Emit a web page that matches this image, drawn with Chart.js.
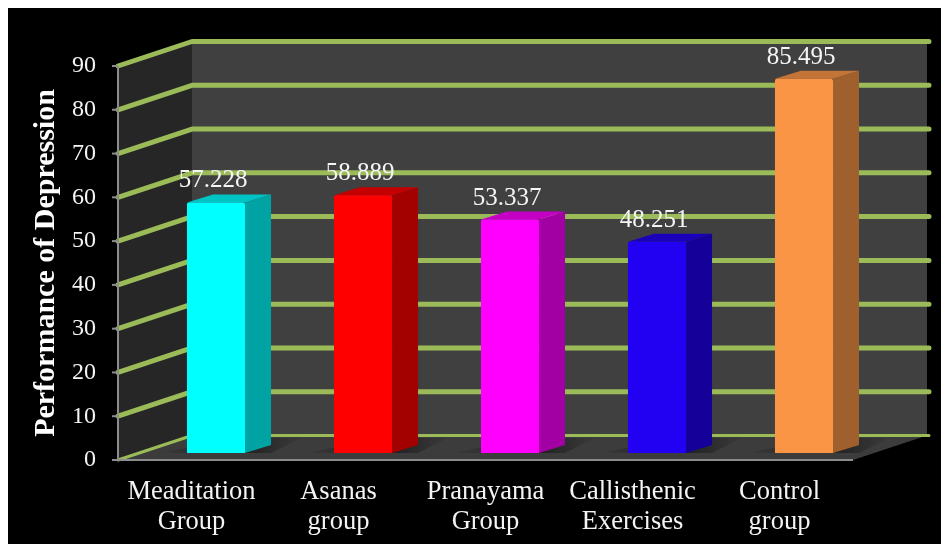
<!DOCTYPE html>
<html><head><meta charset="utf-8">
<style>
html,body{margin:0;padding:0;background:#fff;}
#box{position:absolute;left:8px;top:8px;width:933px;height:536px;background:#000;}
</style>
<script src="https://cdn.jsdelivr.net/npm/chart.js@4/dist/chart.umd.js"></script>
</head><body>
<div style="position:absolute;left:0;top:0;width:941px;height:544px;overflow:hidden"><div id="box"></div>
<canvas id="c" width="941" height="544" style="position:absolute;left:0;top:0"></canvas></div>
<script>
const categories=[["Meaditation","Group"],["Asanas","group"],["Pranayama","Group"],["Callisthenic","Exercises"],["Control","group"]];
const values=[57.228,58.889,53.337,48.251,85.495];
const frontColors=["#00ffff","#ff0000","#ff00ff","#2200f2","#fb9546"];
const sideColors=["#00a3a3","#a30000","#a300a3","#150099","#a0602d"];
const topColors=["#00c4c4","#c40000","#c400c4","#1a00b8","#c47436"];
const yTicks=[0,10,20,30,40,50,60,70,80,90];
const yTitle="Performance of Depression";

const DX=74,DY=-24.5,BX=24.5,BY=-7,SX=26,SY=-8;
function poly(ctx,pts,fill){ctx.beginPath();pts.forEach((p,i)=>i?ctx.lineTo(p[0],p[1]):ctx.moveTo(p[0],p[1]));ctx.closePath();ctx.fillStyle=fill;ctx.fill();}
const scene={id:'scene',
 beforeDatasetsDraw(chart){
  const {ctx,chartArea:a,scales:{y}}=chart;const b=y.getPixelForValue(0),t=y.getPixelForValue(90);
  ctx.save();
  poly(ctx,[[a.left,t],[a.left+DX,t+DY],[a.left+DX,b+DY],[a.left,b]],'#262626');
  poly(ctx,[[a.left+DX,t+DY],[a.right+DX,t+DY],[a.right+DX,b+DY],[a.left+DX,b+DY]],'#404040');
  poly(ctx,[[a.left,b],[a.left+DX,b+DY],[a.right+DX,b+DY],[a.right,b]],'#3c3c3c');
  ctx.strokeStyle='#9bbb59';ctx.lineCap='round';ctx.lineJoin='round';
  yTicks.forEach(v=>{const p=y.getPixelForValue(v);
    ctx.lineWidth=v===0?3:5;
    ctx.beginPath();ctx.moveTo(a.left,p);ctx.lineTo(a.left+DX,p+DY);ctx.lineTo(a.right+DX+2,p+DY);ctx.stroke();});
  ctx.strokeStyle='#8c8c8c';ctx.lineWidth=2;ctx.lineCap='butt';
  ctx.beginPath();ctx.moveTo(a.left,t);ctx.lineTo(a.left,b);ctx.lineTo(a.right,b);ctx.stroke();
  yTicks.forEach(v=>{const p=y.getPixelForValue(v);ctx.beginPath();ctx.moveTo(a.left-6,p);ctx.lineTo(a.left,p);ctx.stroke();});
  chart.getDatasetMeta(0).data.forEach((el,i)=>{
    const l=el.x-el.width/2+BX,r=el.x+el.width/2+BX,tp=el.y+BY,bt=y.getPixelForValue(0)+BY;
    const g=ctx.createLinearGradient(l-30,0,r+60,0);g.addColorStop(0,'rgba(0,0,0,0)');g.addColorStop(.55,'rgba(0,0,0,.5)');g.addColorStop(1,'rgba(0,0,0,0)');
    poly(ctx,[[l-30,bt],[r+SX,bt],[r+SX+30,bt-15],[r-5,bt-15]],g);
    poly(ctx,[[r,tp],[r+SX,tp+SY],[r+SX,bt+SY],[r,bt]],sideColors[i]);
    poly(ctx,[[l,tp],[l+SX,tp+SY],[r+SX,tp+SY],[r,tp]],topColors[i]);
  });
  ctx.restore();
  ctx.save();ctx.translate(BX,BY);
 },
 afterDatasetsDraw(chart){
  const {ctx}=chart;ctx.restore();
  ctx.save();ctx.fillStyle='#f4f4f4';ctx.font='25px "Liberation Serif"';ctx.textAlign='center';ctx.textBaseline='alphabetic';
  chart.getDatasetMeta(0).data.forEach((el,i)=>{ctx.fillText(values[i].toFixed(3),el.x+BX-3,el.y+BY-15);});
  ctx.restore();
 }};
new Chart(document.getElementById('c'),{type:'bar',
 data:{labels:categories,datasets:[{data:values,backgroundColor:frontColors,borderWidth:0,borderRadius:2,barPercentage:0.395,categoryPercentage:1}]},
 options:{responsive:false,animation:false,
  layout:{padding:{left:28,right:88,top:66,bottom:0}},
  plugins:{legend:{display:false},tooltip:{enabled:false}},
  scales:{
   x:{grid:{display:false},border:{display:false},afterFit(s){s.height=84;},
      ticks:{color:'#f4f4f4',font:{family:'Liberation Serif',size:26.5,lineHeight:1.14},padding:9,maxRotation:0,autoSkip:false}},
   y:{min:0,max:90,grid:{display:false},border:{display:false},afterFit(s){s.width=90;},
      ticks:{stepSize:10,color:'#f4f4f4',font:{family:'Liberation Serif',size:24},padding:14},
      title:{display:true,text:yTitle,color:'#fff',font:{family:'Liberation Serif',size:30,weight:'bold'},padding:0}}
  }},
 plugins:[scene]});
</script></body></html>
